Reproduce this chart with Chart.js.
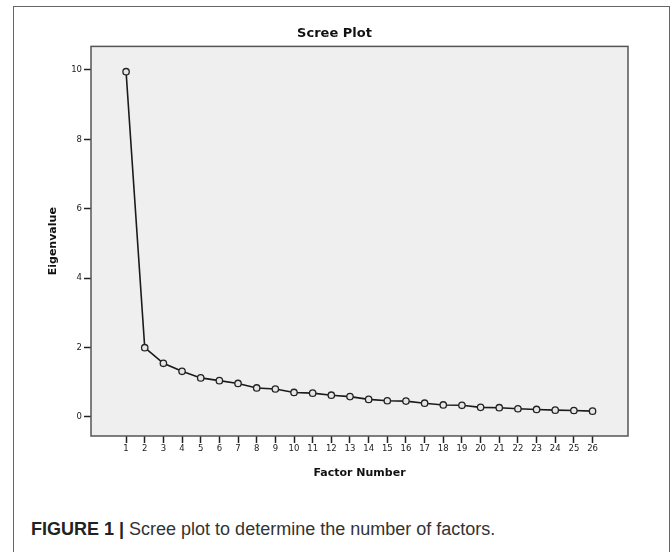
<!DOCTYPE html>
<html>
<head>
<meta charset="utf-8">
<script src="https://cdn.jsdelivr.net/npm/chart.js@4.4.1/dist/chart.umd.min.js"></script>
<style>
  html, body { margin: 0; padding: 0; background: #fff; }
  body { width: 672px; height: 552px; position: relative; overflow: hidden; }
  #frame { position: absolute; left: 13px; top: 6px; width: 657px; height: 600px;
           border: 1px solid #666; border-bottom: none; box-sizing: border-box; }
  #wrap { position: absolute; left: 14px; top: 7px; width: 650px; height: 480px; }
  #caption { position: absolute; left: 31px; top: 519px; font-family: "Liberation Sans", Arial, sans-serif;
             font-size: 18px; color: #333; white-space: nowrap; }
  #caption b { color: #222; }
</style>
</head>
<body>
<div id="frame"></div>
<div id="wrap"><canvas id="scree" width="650" height="480"></canvas></div>
<div id="caption"><b>FIGURE 1 |</b> Scree plot to determine the number of factors.</div>
<script>
// factor numbers and eigenvalues
var factors = [1,2,3,4,5,6,7,8,9,10,11,12,13,14,15,16,17,18,19,20,21,22,23,24,25,26];
var eigenvalues = [9.95,1.99,1.54,1.31,1.12,1.04,0.96,0.83,0.80,0.70,0.68,0.62,0.58,
                   0.50,0.46,0.45,0.39,0.34,0.33,0.27,0.26,0.23,0.21,0.19,0.18,0.16];
var yTicks = [0,2,4,6,8,10];

var points = factors.map(function(f, i){ return {x: f, y: eigenvalues[i]}; });

// grey plot background + box around the plot area
var plotBox = {
	id: 'plotBox',
	beforeDatasetsDraw: function(chart){
		var a = chart.chartArea, ctx = chart.ctx;
		ctx.save();
		ctx.fillStyle = '#efefef';
		ctx.fillRect(a.left, a.top, a.right - a.left, a.bottom - a.top);
		ctx.restore();
	},
	afterDatasetsDraw: function(chart){
		var a = chart.chartArea, ctx = chart.ctx;
		ctx.save();
		ctx.strokeStyle = '#555';
		ctx.lineWidth = 1.5;
		ctx.strokeRect(a.left, a.top, a.right - a.left, a.bottom - a.top);
		ctx.restore();
	}
};

var tickFont = {family: 'DejaVu Sans', size: 8.5};
var titleFont = {family: 'DejaVu Sans', size: 11, weight: 'bold'};

new Chart(document.getElementById('scree').getContext('2d'), {
	type: 'line',
	data: {
		datasets: [{
			data: points,
			borderColor: '#1a1a1a',
			borderWidth: 1.6,
			pointRadius: 3.2,
			pointBorderWidth: 1.3,
			pointBackgroundColor: '#e6e6e6',
			pointBorderColor: '#222',
			tension: 0,
			fill: false
		}]
	},
	options: {
		responsive: false,
		animation: false,
		events: [],
		layout: {padding: {left: 27, right: 36, top: 0, bottom: 0}},
		plugins: {
			legend: {display: false},
			tooltip: {enabled: false},
			title: {
				display: true,
				text: 'Scree Plot',
				color: '#111',
				font: {family: 'DejaVu Sans', size: 13, weight: 'bold'},
				padding: {top: 19, bottom: 4.8}
			}
		},
		scales: {
			x: {
				type: 'linear',
				min: 1 - 1.88,
				max: 26 + 1.9,
				afterBuildTicks: function(scale){
					scale.ticks = factors.map(function(v){ return {value: v}; });
				},
				afterFit: function(scale){ scale.height = 51; },
				grid: {display: true, drawOnChartArea: false, drawTicks: true, tickLength: 7, color: '#222', tickWidth: 1.5},
				border: {display: false},
				ticks: {color: '#222', font: tickFont, padding: 1, maxRotation: 0, autoSkip: false,
					callback: function(v){ return String(v); }},
				title: {display: true, text: 'Factor Number', color: '#111', font: titleFont, padding: {top: 0, bottom: 7.4}}
			},
			y: {
				min: -0.556,
				max: 10.68,
				afterBuildTicks: function(scale){
					scale.ticks = yTicks.map(function(v){ return {value: v}; });
				},
				afterFit: function(scale){ scale.width = 50; },
				grid: {display: true, drawOnChartArea: false, drawTicks: true, tickLength: 7, color: '#222', tickWidth: 1.5},
				border: {display: false},
				ticks: {color: '#222', font: tickFont, padding: 2, autoSkip: false,
					callback: function(v){ return String(v); }},
				title: {display: true, text: 'Eigenvalue', color: '#111', font: titleFont, padding: {top: 5.4, bottom: 0}}
			}
		}
	},
	plugins: [plotBox]
});
</script>
</body>
</html>
